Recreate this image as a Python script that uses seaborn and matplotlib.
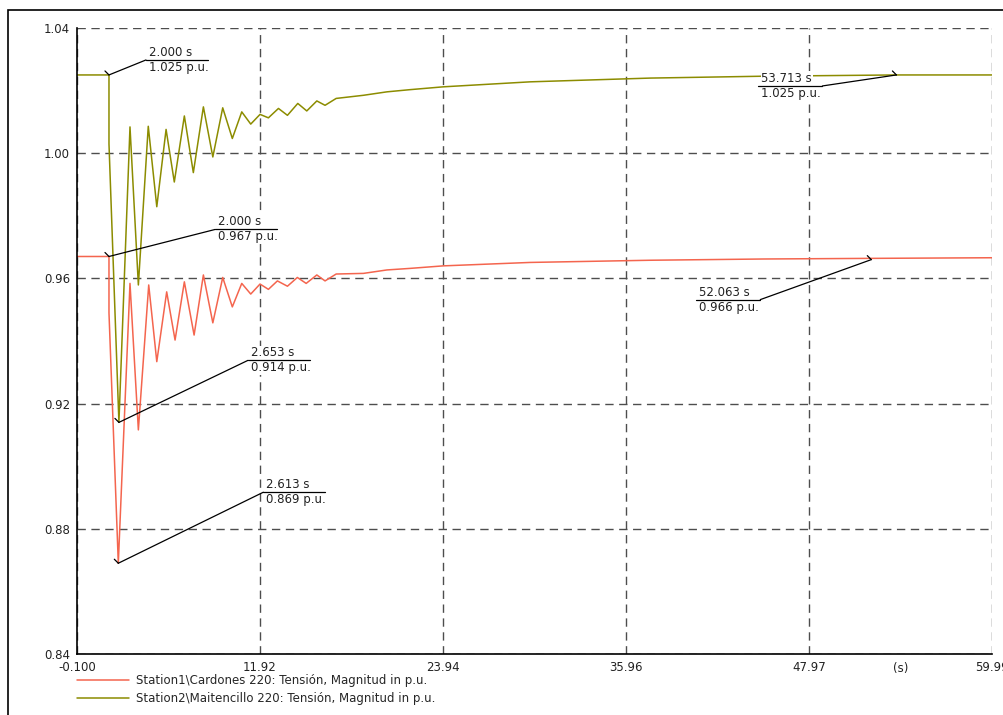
import numpy as np
import pandas as pd
import matplotlib
matplotlib.use("Agg")
import matplotlib.pyplot as plt
import matplotlib.patches as mpatches
from matplotlib.lines import Line2D
import seaborn as sns

# values (time in s, voltage in p.u.)
t_cardones = [-0.1, 2.0, 2.0, 2.613, 3.38, 3.93, 4.61, 5.14, 5.79, 6.34, 6.95, 7.59,
              8.20, 8.82, 9.47, 10.10, 10.72, 11.31, 11.92, 12.47, 13.06, 13.72,
              14.37, 14.95, 15.65, 16.19, 16.92, 18.71, 20.25, 21.78, 23.94, 29.66,
              37.55, 45.0, 52.063, 59.99]
v_cardones = [0.967, 0.967, 0.949, 0.869, 0.9584, 0.9116, 0.9579, 0.9334, 0.9557, 0.9403,
              0.9589, 0.9419, 0.9611, 0.9458, 0.9603, 0.9509, 0.9584, 0.9550, 0.9582,
              0.9565, 0.9592, 0.9575, 0.9603, 0.9584, 0.9611, 0.9592, 0.9614, 0.9616,
              0.9627, 0.9632, 0.9640, 0.9651, 0.9658, 0.9662, 0.9664, 0.9666]

t_maitencillo = [-0.1, 2.0, 2.0, 2.653, 3.38, 3.93, 4.58, 5.14, 5.75, 6.29, 6.95, 7.54,
                 8.20, 8.82, 9.47, 10.10, 10.72, 11.31, 11.92, 12.47, 13.13, 13.72,
                 14.40, 14.99, 15.65, 16.19, 16.92, 18.71, 20.25, 21.77, 23.94, 29.66,
                 37.55, 45.0, 53.713, 59.99]
v_maitencillo = [1.025, 1.025, 1.003, 0.914, 1.0084, 0.9579, 1.0086, 0.9829, 1.0076, 0.9908,
                 1.0119, 0.9938, 1.0148, 0.9988, 1.0145, 1.0047, 1.0132, 1.0093, 1.0124,
                 1.0113, 1.0143, 1.0121, 1.0159, 1.0135, 1.0167, 1.0153, 1.0175, 1.0185,
                 1.0196, 1.0203, 1.0212, 1.0228, 1.0240, 1.0246, 1.025, 1.025]

labels = ["Station1\\Cardones 220: Tensión, Magnitud in p.u.",
          "Station2\\Maitencillo 220: Tensión, Magnitud in p.u."]
colors = ["#f4654e", "#8c8c00"]

x_ticks = [-0.1, 11.92, 23.94, 35.96, 47.97, 59.99]
x_tick_labels = ["-0.100", "11.92", "23.94", "35.96", "47.97", "59.99"]
y_ticks = [0.84, 0.88, 0.92, 0.96, 1.00, 1.04]
y_tick_labels = ["0.84", "0.88", "0.92", "0.96", "1.00", "1.04"]

# markers: (time, value, label dx px, label dy px, side)
callouts = [
    (2.000, 1.025, 37, -15, "right"),
    (2.000, 0.967, 106, -27, "right"),
    (2.653, 0.914, 129, -62, "right"),
    (2.613, 0.869, 145, -71, "right"),
    (53.713, 1.025, -74, 11, "left"),
    (52.063, 0.966, -111, 40, "left"),
]

sns.set_style("white")
plt.rcParams["font.family"] = ["DejaVu Sans"]

fig = plt.figure(figsize=(10.04, 7.15), dpi=100)
ax = fig.add_axes([77 / 1004, 1 - 654 / 715, (992 - 77) / 1004, (654 - 28) / 715])

sns.lineplot(x=t_cardones, y=v_cardones, ax=ax, color=colors[0], lw=1.1,
             estimator=None, sort=False, label=labels[0])
sns.lineplot(x=t_maitencillo, y=v_maitencillo, ax=ax, color=colors[1], lw=1.1,
             estimator=None, sort=False, label=labels[1])

ax.set_xlim(-0.1, 59.99)
ax.set_ylim(0.84, 1.04)
ax.set_xticks(x_ticks)
ax.set_xticklabels(x_tick_labels)
ax.set_yticks(y_ticks)
ax.set_yticklabels(y_tick_labels)
ax.set_xticks([(a + b) / 2 for a, b in zip(x_ticks[:-1], x_ticks[1:])], minor=True)
ax.set_yticks([(a + b) / 2 for a, b in zip(y_ticks[:-1], y_ticks[1:])], minor=True)
ax.tick_params(which="major", direction="in", length=4, width=1, labelsize=8.5,
               colors="#222222", pad=5)
ax.tick_params(which="minor", direction="in", length=2.5, width=1)
ax.grid(True, which="major", color="#4d4d4d", lw=1, linestyle=(0, (6, 4)))
ax.set_xlabel("")
ax.set_ylabel("")
for s in ["top", "right"]:
    ax.spines[s].set_visible(False)
for s in ["left", "bottom"]:
    ax.spines[s].set_color("black")
    ax.spines[s].set_linewidth(1.2)

# unit label sits where the last minor tick label would be
ax.text((x_ticks[-2] + x_ticks[-1]) / 2, -0.012, "(s)", transform=ax.get_xaxis_transform(),
        ha="center", va="top", fontsize=8.5, color="#222222")

ax.legend(loc="upper left", bbox_to_anchor=(0, -0.032), frameon=False, fontsize=8.5,
          handlelength=4.4, handletextpad=0.6, labelspacing=0.45, borderpad=0,
          borderaxespad=0)

# callouts in pixel space
fig.canvas.draw()
for t, v, dx, dy, side in callouts:
    px, py = ax.transData.transform((t, v))
    ex, ey = px + dx, py - dy
    if side == "right":
        x0, x1 = ex, ex + 62
    else:
        x0, x1 = ex - 64, ex
    for xs, ys in [([px, ex], [py, ey]), ([x0, x1], [ey, ey]), ([px - 4, px], [py + 4, py])]:
        fig.add_artist(Line2D(xs, ys, transform=None, color="black", lw=0.9, zorder=6))
    for txt, va, off in [(f"{t:.3f} s", "bottom", 1), (f"{v:.3f} p.u.", "top", -1)]:
        fig.text(x0 + 3, ey + off, txt, transform=None, ha="left", va=va, fontsize=8.5,
                 color="#222222", zorder=5,
                 bbox=dict(boxstyle="square,pad=0.05", fc="white", ec="none"))

# outer frame
fig.add_artist(mpatches.Rectangle((8 / 1004, -0.1), 1.2, 1.1 - 10 / 715, transform=fig.transFigure,
                                  fill=False, ec="black", lw=1.2))

fig.savefig("out.png", dpi=100, facecolor="white")
